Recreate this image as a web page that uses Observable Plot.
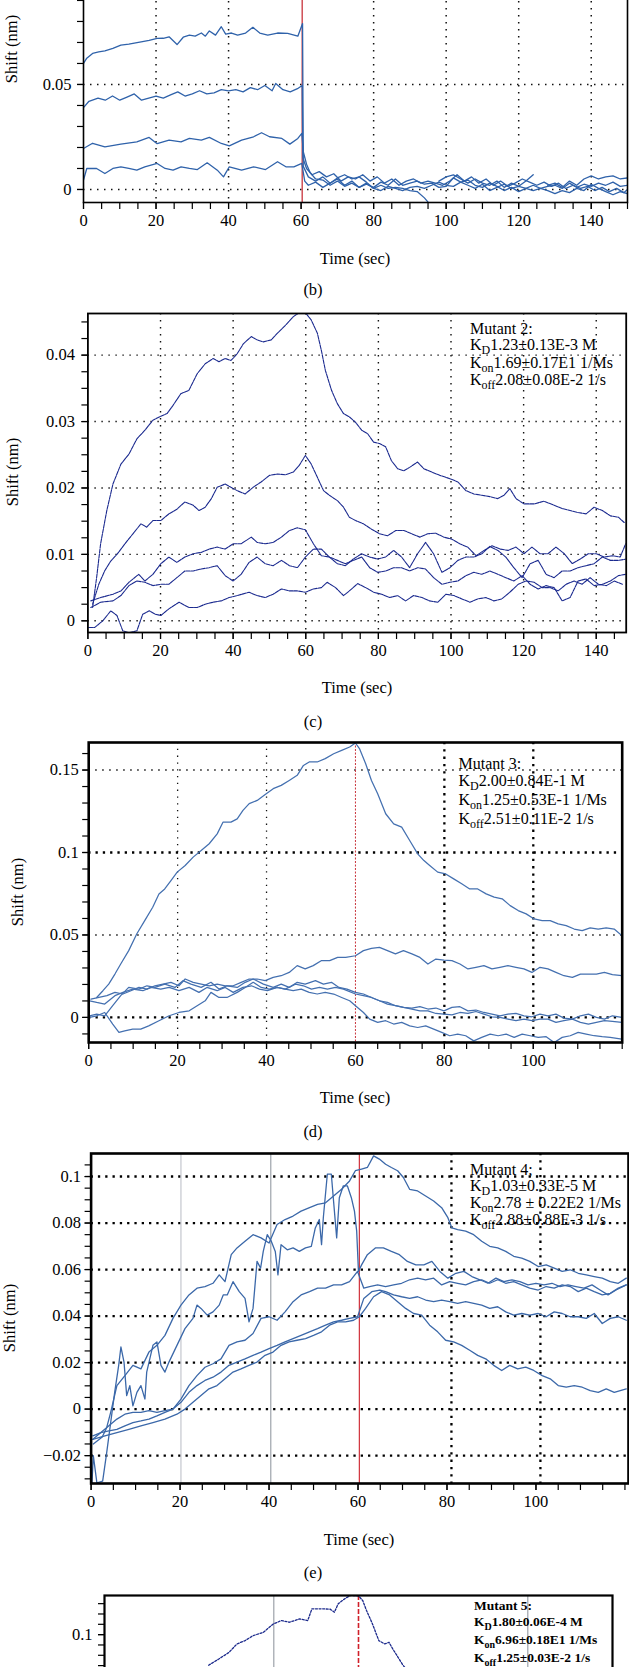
<!DOCTYPE html>
<html><head><meta charset="utf-8">
<script src="https://cdn.jsdelivr.net/npm/d3@7"></script>
<script src="https://cdn.jsdelivr.net/npm/@observablehq/plot@0.6"></script>
<style>
body{margin:0;background:#fff;}
#page{position:relative;width:629px;height:1667px;overflow:hidden;background:#fff;font-family:"Liberation Serif","Times New Roman",serif;color:#000;}
.pn{position:absolute;left:0;}
.pn svg{display:block;}
.lbl{position:absolute;width:240px;text-align:center;font-size:16.5px;line-height:20px;white-space:nowrap;}
.ylbl{position:absolute;width:110px;height:20px;text-align:center;font-size:16.5px;line-height:20px;white-space:nowrap;transform:rotate(-90deg);transform-origin:50% 50%;}
.ann{position:absolute;font-size:16px;white-space:nowrap;}
.ann .s{position:relative;top:4px;}
</style></head><body><div id="page"></div>
<script>
// ---------------- Panel (b) ----------------
const bCurve1 = [[0,0.060],[0.9,0.0625],[2.5,0.0648],[4.2,0.0655],[5.9,0.066],[8.1,0.0672],[10.3,0.0687],[12.5,0.0692],[15.9,0.0703],[18.1,0.071],[20.3,0.0719],[22,0.072],[23.6,0.0727],[25.8,0.069],[27.5,0.0725],[29.2,0.0735],[30.8,0.073],[32.5,0.0745],[33.6,0.073],[34.7,0.0755],[36.4,0.0735],[38,0.0775],[39.2,0.074],[40.8,0.0745],[42.5,0.0735],[44.7,0.0745],[46.7,0.0772],[48.6,0.0745],[50.8,0.0735],[53.5,0.0745],[56.3,0.0743],[59.1,0.073],[60.4,0.079],
 [60.6,0.011],[62,0.006],[64,0.004],[66,0.006],[68,0.003],[70,0.005],[72,0.002],[74,0.004],[76,0.001],[78,0.003],[80,0.0005],[82,0.002],[84,0.0005],[86,0.001],[88,0.0005],[90,-0.0005],[92,-0.001],[94,-0.004],[95,-0.006],[96,null],
 [98,0.004],[100,0.006],[102,0.007],[104,0.005],[106,0.003],[108,0.005],[110,0.003],[112,0.002],[114,0.004],[116,0.001],[118,0.003],[120,0.0015],[122,0.004],[124,0.007],[126,null],[128,0.002],[130,0.003],[132,0.001],[134,0.004],[136,0.002],[138,0.005],[140,0.0065],[142,0.005],[144,0.006],[146,0.0065],[148,0.005],[150,0.0055]];
const bCurve2 = [[0,0.039],[1.5,0.042],[4,0.0435],[6,0.0425],[8,0.0445],[10,0.0425],[12,0.044],[14,0.0455],[16,0.0425],[18,0.0435],[20,0.0445],[22,0.0435],[24,0.045],[26,0.0465],[28,0.0445],[30,0.0455],[32,0.047],[34,0.0455],[36,0.046],[38,0.0475],[40,0.047],[42,0.0475],[44,0.0465],[46,0.0485],[48,0.0475],[50,0.0495],[52,0.047],[53,0.0505],[55,0.0475],[57,0.0465],[59,0.048],[60.3,0.0495],
 [60.5,0.015],[61.5,0.01],[63,0.007],[65,0.0085],[67,0.006],[69,0.0075],[71,0.004],[73,0.006],[75,0.005],[77,0.007],[79,0.004],[81,0.006],[83,0.003],[85,0.005],[87,0.002],[89,0.004],[91,0.005],[93,0.003],[95,0.004],[97,0.003],[99,0.002],[101,0.004],[103,0.007],[105,0.004],[107,0.006],[109,0.003],[111,0.005],[113,0.002],[115,0.004],[117,0.0015],[119,0.003],[121,0.005],[123,0.0035],[125,0.002],[127,0.0035],[129,0.0015],[131,0.003],[133,0.0005],[135,0.002],[137,0.0005],[139,0.0015],[141,-0.0005],[143,0.001],[145,-0.001],[147,0.0005],[149,-0.0015],[150,0]];
const bCurve3 = [[0,0.0195],[2.5,0.022],[5.9,0.0203],[10.3,0.0216],[14.7,0.0227],[18.1,0.0248],[20.3,0.0218],[23.6,0.0235],[26.9,0.0227],[29.2,0.0243],[32.5,0.0235],[34.7,0.0248],[38,0.0219],[40.2,0.0208],[43.6,0.0235],[46.9,0.0251],[49.1,0.027],[51.3,0.0251],[54.7,0.0243],[56.9,0.0216],[59.1,0.0243],[60.2,0.0267],
 [60.6,0.018],[61.5,0.012],[62.5,0.008],[64,0.005],[66,0.0045],[68,0.002],[70,0.004],[72,0.0015],[74,0.003],[76,0.001],[78,0.0025],[80,0.001],[82,0.0035],[84,0.002],[86,0.005],[88,0.002],[90,0.003],[92,0.004],[94,0.0025],[96,0.003],[98,0.001],[100,0.0015],[102,0.0055],[104,0.0035],[106,0.002],[108,0.0005],[110,0.0025],[112,-0.0005],[114,0.001],[116,0.0025],[118,0.0005],[120,0.0015],[122,0.0005],[124,0.002],[126,0.0005],[128,0.0015],[130,0.002],[132,0.0005],[134,0.003],[136,0.001],[138,0.0025],[140,0.0015],[142,0.003],[144,0.002],[146,0.0035],[148,0.0015],[150,0.002]];
const bCurve4 = [[0,0.0045],[0.9,0.010],[3.6,0.010],[5.9,0.0076],[8.1,0.010],[10.3,0.0108],[12.5,0.010],[14.7,0.0092],[16.9,0.0108],[20.3,0.0124],[22.5,0.010],[24.7,0.0092],[26.9,0.0108],[29.2,0.010],[31.4,0.0095],[34.1,0.0127],[36.9,0.0092],[38.6,0.006],[40.2,0.0108],[43.6,0.0092],[46.9,0.0108],[50.2,0.0095],[53.5,0.0132],[55.8,0.0108],[58,0.0108],[60.2,0.0124],
 [61,0.004],[62,0.002],[64,0.0035],[66,0.001],[68,0.003],[70,0.0055],[72,0.007],[74,0.005],[76,0.006],[78,0.0035],[80,0.0005],[82,-0.0005],[84,0.0015],[86,0.0005],[88,-0.0005],[90,0.001],[92,0.0015],[94,0.0005],[96,0.002],[98,0.0035],[100,0.002],[102,0.0015],[104,0.0035],[106,0.0045],[108,0.002],[110,0.001],[112,0.003],[114,0.0015],[116,-0.0005],[118,0.001],[120,-0.001],[122,0.0005],[124,-0.0005],[126,0.0005],[128,-0.0005],[130,-0.002],[132,-0.0005],[134,-0.0015],[136,0.0005],[138,-0.0005],[140,0.0025],[142,0.0005],[144,-0.001],[146,-0.0025],[148,-0.001],[150,-0.002]];
const bXLabels = [0,20,40,60,80,100,120,140];
const bYLabels = [0,0.05];
const bGridX = [20,40,80,100,120,140];
const bGridY = [0,0.05,0.1];
const bRed = [60.3];

// ---------------- Panel (c) Mutant 2 ----------------
const cCurve1 = [[1.3,0.002],[2.4,0.0065],[3.5,0.0116],[5.2,0.0166],[6.9,0.0206],[9.1,0.0236],[11.3,0.0251],[13.5,0.0274],[15.7,0.0287],[17.9,0.0302],[20.1,0.0308],[21.8,0.0312],[23.4,0.0324],[25.6,0.0342],[27.8,0.0347],[30.1,0.0372],[32.3,0.0387],[34.5,0.0395],[36.1,0.039],[37.8,0.0395],[39.4,0.0392],[41.1,0.0402],[42.8,0.0417],[45,0.0428],[46.6,0.0423],[48.3,0.042],[50.5,0.0423],[52.2,0.0433],[54.4,0.0445],[56.6,0.0458],[58.2,0.0464],[59.9,0.0464],[61.5,0.0453],[63.2,0.0433],[64.3,0.0407],[65.4,0.0377],[67.1,0.0347],[68.7,0.0327],[70.4,0.0312],[72,0.0307],[73.7,0.0299],[75.4,0.0287],[77,0.0282],[78.7,0.0269],[80.3,0.0267],[82,0.0262],[83.6,0.0241],[85.3,0.0229],[87,0.0226],[88.6,0.0231],[90.8,0.0239],[92.5,0.0229],[94.7,0.0224],[96.9,0.0219],[99.7,0.0214],[101.9,0.0209],[104.1,0.0196],[106.3,0.0191],[108.5,0.0189],[110.7,0.0187],[112.9,0.0184],[114.6,0.0189],[116.2,0.0199],[117.9,0.0184],[120.1,0.0176],[122.9,0.0176],[125.6,0.018],[128.4,0.0174],[130.6,0.0169],[132.8,0.0166],[135,0.0163],[137.2,0.0161],[139.4,0.0171],[141.7,0.0166],[143.9,0.0158],[146.1,0.0156],[147.7,0.0148]];
const cCurve2 = [[1.3,0.0025],[3,0.0055],[4.6,0.0075],[6.3,0.009],[8,0.01],[10.2,0.0116],[12.4,0.0131],[14.6,0.0146],[16.2,0.0141],[17.9,0.0151],[20.1,0.0151],[22.3,0.0161],[24.5,0.0168],[26.7,0.0179],[29,0.0174],[30.6,0.0166],[32.3,0.0171],[34,0.0184],[35.6,0.0201],[37.8,0.0206],[39.4,0.0201],[41.1,0.0196],[43.3,0.0191],[45.5,0.0201],[47.7,0.0209],[50,0.0219],[52.2,0.0221],[54.4,0.022],[56.6,0.0224],[58.2,0.0234],[59.9,0.0249],[61.5,0.0236],[63.2,0.0216],[64.9,0.0196],[66.5,0.0189],[68.7,0.0181],[70.4,0.0171],[72,0.0156],[73.7,0.0151],[75.9,0.0146],[78.1,0.0138],[80.3,0.0131],[82.5,0.0128],[84.8,0.0136],[87,0.0136],[89.2,0.0131],[91.4,0.0126],[93.6,0.0131],[95.8,0.0132],[98,0.0126],[100.2,0.0123],[102.4,0.0116],[104.6,0.0111],[106.9,0.0098],[109.1,0.0106],[111.3,0.0113],[113.5,0.0108],[115.7,0.0106],[117.9,0.0111],[120.1,0.0101],[122.3,0.0111],[124.5,0.0101],[126.7,0.0101],[128.9,0.0111],[131.2,0.0101],[133.4,0.0086],[135.6,0.0093],[137.8,0.0101],[140,0.0101],[142.2,0.0096],[144.4,0.0098],[146.6,0.0096],[148.1,0.0116]];
const cCurve3 = [[0.8,0.003],[3.5,0.0035],[6.9,0.004],[9.1,0.0045],[11.3,0.0058],[14,0.007],[15.7,0.006],[17.9,0.007],[20.1,0.0086],[22.3,0.0096],[24.5,0.0088],[26.7,0.0096],[29,0.0101],[31.2,0.0103],[33.4,0.0108],[35.6,0.0111],[37.8,0.0108],[40,0.0116],[42.2,0.0116],[45,0.0126],[46.6,0.0118],[48.8,0.0116],[51,0.0118],[53.3,0.0126],[55.5,0.0136],[57.7,0.014],[59.9,0.0137],[62.1,0.0116],[64.3,0.0098],[66.5,0.0096],[68.7,0.0086],[70.9,0.0083],[73.1,0.0093],[75.4,0.0101],[77.6,0.0096],[79.8,0.0093],[82,0.0096],[84.2,0.0106],[86.4,0.0096],[88.6,0.008],[90.8,0.0101],[93,0.0118],[95.2,0.0101],[97.5,0.0073],[99.7,0.008],[101.9,0.0091],[104.1,0.0096],[106.3,0.0096],[108.5,0.0101],[110.7,0.0112],[112.9,0.0106],[115.1,0.0096],[117.3,0.008],[119.6,0.0065],[121.8,0.0086],[124,0.0091],[126.2,0.007],[128.4,0.0065],[130.6,0.0075],[132.8,0.0075],[135,0.008],[137.2,0.0083],[139.4,0.0086],[141.7,0.0096],[143.9,0.0091],[146.1,0.0091],[148.3,0.0093]];
const cCurve4 = [[0.8,0.002],[3.5,0.0028],[6.9,0.003],[9.1,0.0038],[11.3,0.0053],[13.5,0.006],[15.7,0.0058],[17.9,0.0053],[20.1,0.0055],[22.3,0.0055],[24.5,0.0065],[26.7,0.0075],[29,0.0075],[31.2,0.0078],[33.4,0.008],[35.6,0.0083],[37.8,0.0068],[40,0.006],[42.2,0.007],[44.4,0.0088],[46.6,0.0096],[48.8,0.0086],[51,0.0083],[53.3,0.0091],[55.5,0.0083],[57.7,0.008],[59.9,0.0096],[62.1,0.0108],[64.3,0.0108],[66.5,0.0096],[68.7,0.0091],[70.9,0.0086],[73.1,0.0091],[75.4,0.0096],[77.6,0.008],[79.8,0.0073],[82,0.0075],[84.2,0.008],[86.4,0.008],[88.6,0.0075],[90.8,0.008],[93,0.0078],[95.2,0.0065],[97.5,0.0055],[99.7,0.0058],[101.9,0.006],[104.1,0.0068],[106.3,0.0073],[108.5,0.007],[110.7,0.0075],[112.9,0.007],[115.1,0.0065],[117.3,0.006],[119.6,0.0068],[121.8,0.0055],[124,0.0048],[126.2,0.0053],[128.4,0.005],[130.6,0.003],[132.8,0.0035],[135,0.006],[137.2,0.0063],[139.4,0.0053],[141.7,0.0055],[143.9,0.006],[146.1,0.0068],[148.1,0.007]];
const cCurve5 = [[0.2,-0.001],[1.9,-0.001],[4.1,0],[6.3,0.0015],[8,0.0008],[9.6,-0.0015],[11.3,-0.0018],[13.5,-0.0015],[15.1,0.001],[16.9,0.0015],[18.5,0.001],[20.1,0.0008],[22.3,0.0018],[25.1,0.0028],[27.8,0.002],[30.1,0.002],[32.3,0.0025],[34.5,0.0028],[36.7,0.003],[38.9,0.0035],[41.1,0.0038],[44.4,0.0043],[46.6,0.0038],[48.8,0.0035],[51,0.004],[53.3,0.0048],[55.5,0.0045],[57.7,0.0045],[59.9,0.0043],[62.1,0.0048],[64.3,0.005],[65.9,0.0058],[68.2,0.005],[70.4,0.0038],[72,0.0045],[74.3,0.0056],[76.5,0.005],[78.7,0.0043],[80.9,0.004],[83.1,0.0035],[85.3,0.0038],[87.5,0.003],[89.7,0.0038],[92,0.0035],[94.1,0.003],[96.4,0.0028],[98.6,0.004],[100.8,0.0038],[103,0.0033],[105.2,0.0028],[107.4,0.0033],[109.6,0.0035],[111.8,0.003],[114,0.0033],[116.2,0.0043],[118.5,0.0055],[120.7,0.006],[122.9,0.0058],[125.1,0.005],[127.3,0.005],[129.5,0.0045],[131.7,0.0055],[133.9,0.006],[136.1,0.0055],[138.3,0.0065],[140.6,0.0055],[142.8,0.0053],[145,0.006],[147.2,0.0055]];
const cXLabels = [0,20,40,60,80,100,120,140];
const cYLabels = [0,0.01,0.02,0.03,0.04];
const cGridX = [20,40,60,80,100,120,140];
const cGridY = [0,0.01,0.02,0.03,0.04];

// ---------------- Panel (d) Mutant 3 ----------------
const dCurve1 = [[1.8,0.0121],[3.2,0.0162],[4.5,0.0202],[5.9,0.0263],[7.2,0.0324],[9,0.0405],[10.8,0.0506],[12.6,0.0587],[14.4,0.0668],[15.8,0.0749],[17.1,0.0779],[18.5,0.083],[19.9,0.0881],[21.7,0.0921],[23.5,0.0972],[25.3,0.1012],[27.1,0.1053],[28.9,0.1113],[30.2,0.1184],[32,0.1184],[33.4,0.1204],[34.7,0.1255],[36.1,0.1296],[37.9,0.1316],[39.7,0.1352],[41.5,0.1387],[43.3,0.1407],[45.1,0.1437],[46.9,0.1468],[48.3,0.1528],[49.6,0.1549],[51.4,0.1549],[53.2,0.1569],[55.1,0.1599],[56.9,0.1619],[58.7,0.164],[60,0.1664],[60.9,0.163],[62.3,0.1538],[63.6,0.1437],[65,0.1356],[66.8,0.1235],[68.6,0.1174],[70.4,0.1154],[72.2,0.1073],[74,0.0992],[75.4,0.0951],[76.7,0.0921],[78.5,0.0881],[80.3,0.087],[82.1,0.084],[83.9,0.081],[85.7,0.0779],[87.5,0.0779],[89.4,0.0749],[91.2,0.0729],[93,0.0719],[94.8,0.0678],[96.6,0.0648],[98.4,0.0628],[100.2,0.0597],[102,0.0587],[103.8,0.0587],[105.6,0.0567],[107.4,0.0557],[109.2,0.0536],[111,0.0526],[112.8,0.0543],[114.6,0.0536],[116.4,0.0543],[118.2,0.0536],[119.9,0.0496]];
const dCurve2 = [[0.5,0.0111],[2.3,0.0121],[4.1,0.0132],[5.9,0.0152],[7.7,0.0142],[9.5,0.0162],[11.3,0.0182],[13.1,0.0172],[14.9,0.0192],[16.7,0.0202],[18.5,0.0213],[20.3,0.0192],[21.7,0.0233],[23.5,0.0213],[25.3,0.0202],[27.1,0.0192],[28.9,0.0202],[30.7,0.0192],[32.5,0.0192],[34.3,0.0213],[36.1,0.0233],[37.9,0.0233],[39.7,0.0223],[41.5,0.0243],[43.3,0.0253],[45.1,0.0273],[46.9,0.0314],[48.7,0.0294],[50.5,0.0314],[52.3,0.0344],[54.2,0.0344],[56,0.0364],[57.8,0.0364],[60,0.0374],[61.8,0.0405],[63.6,0.0419],[65.4,0.0425],[67.2,0.0405],[69,0.0385],[70.8,0.0405],[72.7,0.0385],[74.5,0.0364],[76.3,0.0324],[78.1,0.0354],[79.9,0.0348],[81.7,0.0344],[83.5,0.0324],[85.3,0.0294],[87.1,0.0304],[88.9,0.0314],[90.7,0.0294],[92.5,0.0304],[94.3,0.0314],[96.1,0.0304],[97.9,0.0294],[99.7,0.0273],[101.5,0.0304],[103.3,0.0294],[105.1,0.0273],[106.9,0.0253],[108.8,0.0243],[110.6,0.0263],[112.4,0.0263],[114.2,0.0263],[116,0.0273],[117.8,0.0259],[119.9,0.0253]];
const dCurve3 = [[0.2,0.001],[1.8,0.002],[3.6,0.001],[5.4,0.0071],[7.2,0.0132],[9,0.0182],[11.3,0.0172],[13.1,0.0192],[14.9,0.0182],[17.1,0.0202],[19.4,0.0182],[21.2,0.0223],[23,0.0202],[25.3,0.0182],[27.5,0.0213],[29.3,0.0172],[31.1,0.0192],[33.4,0.0182],[35.2,0.0213],[37,0.0233],[39.3,0.0202],[41.5,0.0182],[43.3,0.0202],[45.1,0.0182],[46.9,0.0213],[48.7,0.0202],[51,0.0223],[52.8,0.0202],[54.6,0.0213],[56.3,0.0182],[58.1,0.0172],[60,0.0152],[61.8,0.0142],[63.6,0.0121],[65.4,0.0101],[67.2,0.0081],[69,0.0071],[70.8,0.0061],[72.7,0.0057],[74.5,0.0065],[76.3,0.0051],[78.1,0.0057],[79.9,0.004],[81.7,0.0061],[83.5,0.0065],[85.3,0.004],[87.1,0.0045],[88.9,0.003],[90.7,0.002],[92.5,0.001],[94.3,0.002],[96.1,0.0024],[97.9,0.001],[99.7,0.0004],[101.5,0.002],[103.3,0.001],[105.1,0.002],[106.9,-0.0004],[108.8,-0.001],[110.6,0.001],[112.4,0.002],[114.2,0],[116,-0.001],[117.8,0.001],[119.9,0]];
const dCurve4 = [[0.2,0.0101],[1.8,0.0091],[3.6,0.0081],[5.9,0.0132],[7.7,0.0152],[9.9,0.0172],[12.2,0.0162],[14,0.0182],[16.2,0.0172],[18.1,0.0182],[20.3,0.0162],[22.6,0.0182],[24.8,0.0152],[26.6,0.0182],[28.9,0.0162],[30.7,0.0182],[32.5,0.0152],[34.7,0.0182],[36.6,0.0192],[38.4,0.0172],[40.2,0.0162],[42.4,0.0182],[44.2,0.0172],[46.5,0.0202],[48.3,0.0192],[50.1,0.0172],[51.9,0.0182],[53.7,0.0172],[55.5,0.0182],[57.3,0.0172],[60,0.0142],[61.8,0.0132],[63.6,0.0121],[65.4,0.0101],[67.2,0.0091],[69,0.0071],[70.8,0.0061],[72.7,0.0051],[74.5,0.004],[76.3,0.004],[78.1,0.0024],[79.9,0.002],[81.7,0.0016],[83.5,0.003],[85.3,0.0024],[87.1,0.0036],[88.9,0.002],[90.7,0.0004],[92.5,0],[94.3,-0.001],[96.1,-0.002],[97.9,-0.001],[99.7,-0.002],[101.5,-0.001],[103.3,-0.001],[105.1,-0.003],[106.9,-0.002],[108.8,-0.001],[110.6,-0.003],[112.4,-0.004],[114.2,-0.003],[116,-0.002],[117.8,-0.0024],[119.9,-0.003]];
const dCurve5 = [[0.2,0],[1.8,0.001],[3.6,0.003],[5.4,-0.004],[6.8,-0.0091],[8.1,-0.0081],[9.9,-0.0071],[11.7,-0.0071],[13.5,-0.0051],[15.8,-0.002],[18.1,0.001],[20.3,0.003],[22.6,0.004],[24.4,0.0071],[26.2,0.0101],[27.5,0.0152],[29.3,0.0121],[31.1,0.0121],[33.4,0.0152],[35.2,0.0182],[37,0.0213],[38.8,0.0182],[40.6,0.0172],[42.4,0.0182],[44.2,0.0172],[46,0.0162],[47.8,0.0172],[49.6,0.0152],[51.4,0.0142],[53.2,0.0152],[55.1,0.0142],[56.9,0.0121],[58.7,0.0101],[60,0.0071],[61.8,0.003],[63.2,-0.001],[65,-0.003],[66.8,-0.002],[68.6,-0.004],[70.4,-0.003],[72.2,-0.0051],[74,-0.0061],[75.8,-0.0051],[77.6,-0.0071],[79.4,-0.0091],[81.2,-0.0111],[83,-0.0101],[84.8,-0.0111],[86.6,-0.0142],[88.4,-0.0121],[90.3,-0.0101],[92.1,-0.0111],[93.9,-0.0101],[95.7,-0.0121],[97.5,-0.0101],[99.3,-0.0111],[101.1,-0.0121],[102.9,-0.0117],[104.7,-0.0152],[106.5,-0.0121],[108.3,-0.0111],[110.1,-0.0091],[111.9,-0.0101],[113.7,-0.0111],[115.5,-0.0117],[117.3,-0.0121],[119.9,-0.0132]];
const dXLabels = [0,20,40,60,80,100];
const dYLabels = [0,0.05,0.1,0.15];
const dGridXThin = [20,40];
const dGridXBold = [80,100];
const dGridYThin = [0.05,0.15];
const dGridYBold = [0,0.1];
const dRed = [60];

// ---------------- Panel (e) Mutant 4 ----------------
const eCurve1 = [[0.5,-0.015],[2.5,-0.012],[3.5,-0.008],[4.4,-0.0014],[5.8,0.0101],[7.6,0.0144],[9.4,0.0188],[11.2,0.0173],[13,0.0245],[14.8,0.0274],[16.6,0.0317],[18.4,0.039],[20.2,0.0447],[22,0.0491],[23.8,0.052],[25.6,0.0527],[27.4,0.0541],[28.8,0.0577],[30.1,0.0548],[31.5,0.0664],[32.8,0.0693],[34.6,0.0722],[36.4,0.075],[38.2,0.0736],[40,0.0714],[41.8,0.0794],[43.6,0.0815],[45.4,0.083],[47.2,0.0851],[49.1,0.0866],[50.9,0.088],[52.7,0.0887],[54.5,0.0916],[56.3,0.0945],[58.1,0.0981],[59.4,0.1025],[60.8,0.1032],[62.1,0.1039],[63.5,0.1089],[64.8,0.1075],[66.2,0.1053],[67.5,0.1039],[68.9,0.1025],[70.2,0.0996],[71.6,0.0945],[73.4,0.0938],[75.2,0.0916],[77,0.0895],[78.8,0.0866],[80.2,0.0823],[81.1,0.0779],[82.4,0.0772],[84.2,0.0765],[86,0.075],[87.8,0.0722],[89.6,0.07],[91.4,0.0693],[93.2,0.0678],[95,0.0657],[96.8,0.0649],[98.6,0.0635],[100.5,0.0613],[102.3,0.062],[104.1,0.0606],[105.9,0.0592],[107.7,0.0599],[109.5,0.0584],[111.3,0.0577],[113.1,0.057],[114.9,0.0563],[116.7,0.0548],[118.5,0.0541],[120.3,0.0563]];
const eCurve2 = [[0.2,-0.0317],[0.5,-0.02],[1.3,-0.0317],[2.6,-0.031],[3.5,-0.0188],[4.4,-0.0058],[5.3,0.0072],[6.2,0.0188],[6.7,0.0267],[7.4,0.0202],[8,0.0058],[8.7,0.0101],[9.4,0.0014],[10.3,0.0072],[11.2,0.0101],[12.1,0.0043],[12.5,0.0159],[13.9,0.0274],[14.8,0.0289],[15.7,0.0188],[16.6,0.0159],[17.5,0.0202],[19.3,0.0274],[21.1,0.0346],[22.9,0.039],[23.8,0.0447],[24.7,0.0433],[26.1,0.0404],[27.4,0.0418],[28.8,0.0447],[29.7,0.0491],[30.6,0.0491],[31.9,0.0548],[33.3,0.0505],[34.6,0.0476],[35.5,0.0375],[36.4,0.0433],[37.3,0.0635],[38.1,0.0606],[38.7,0.0678],[39.6,0.075],[40.5,0.0722],[41.4,0.0678],[42,0.0577],[42.7,0.0707],[44.1,0.0685],[45.4,0.0693],[46.8,0.0678],[48.2,0.0693],[49.5,0.07],[50.4,0.0779],[51.3,0.0815],[51.8,0.0707],[52.2,0.0823],[53.1,0.101],[54,0.101],[54.5,0.0895],[55.2,0.0736],[55.8,0.0909],[56.7,0.096],[57.6,0.096],[58.5,0.0909],[59.2,0.0851],[59.7,0.0765],[60.1,0.0592],[60.8,0.062],[62.1,0.0664],[63.9,0.0693],[65.7,0.0693],[67.5,0.0678],[69.3,0.0664],[71.1,0.0635],[73,0.062],[74.8,0.062],[76.6,0.0635],[78.4,0.0592],[80.2,0.0563],[82,0.0584],[83.8,0.0592],[85.6,0.057],[87.4,0.0556],[89.2,0.0541],[91,0.0563],[92.8,0.0548],[94.6,0.0556],[96.4,0.0548],[98.2,0.0534],[100,0.0541],[101.8,0.0534],[103.6,0.0541],[105.4,0.0527],[107.2,0.0534],[109,0.0527],[110.8,0.052],[112.6,0.0534],[114.4,0.0512],[116.2,0.0491],[118,0.0512],[120.3,0.0534]];
const eCurve3 = [[0.4,-0.013],[2.2,-0.0101],[4,-0.0072],[5.8,-0.0043],[7.6,-0.0022],[9.4,-0.0014],[11.2,-0.0014],[13,-0.0007],[14.8,-0.0014],[16.6,-0.0007],[18.4,0],[20.2,0.0043],[22,0.0101],[23.8,0.0144],[25.6,0.018],[27.4,0.0195],[29.2,0.0216],[31,0.0274],[32.8,0.0289],[34.6,0.0296],[36.4,0.0325],[38.2,0.039],[40,0.0397],[41.8,0.0382],[43.6,0.0418],[45.4,0.0462],[47.2,0.0491],[49.1,0.0505],[50.9,0.052],[52.7,0.052],[54.5,0.0534],[56.3,0.0534],[58.1,0.0548],[59.9,0.0592],[61.3,0.052],[62.6,0.0527],[64.4,0.0534],[66.2,0.0527],[68,0.0534],[69.8,0.0541],[71.6,0.0556],[73.4,0.0563],[75.2,0.0556],[77,0.0563],[78.8,0.0534],[80.6,0.0548],[82.4,0.0541],[84.2,0.0534],[86,0.0548],[87.8,0.0556],[89.6,0.0541],[91.4,0.0556],[93.2,0.0541],[95,0.0548],[96.8,0.0534],[98.6,0.052],[100.5,0.0512],[102.3,0.0527],[104.1,0.052],[105.9,0.0534],[107.7,0.0527],[109.5,0.0505],[111.3,0.052],[113.1,0.0505],[114.9,0.0491],[116.7,0.0498],[118.5,0.052],[120.3,0.0534]];
const eCurve4 = [[0.4,-0.0115],[2.2,-0.0101],[4,-0.0094],[5.8,-0.0087],[7.6,-0.0072],[9.4,-0.0058],[11.2,-0.0051],[13,-0.0043],[14.8,-0.0029],[16.6,-0.0014],[18.4,0],[20.2,0.0029],[22,0.0072],[23.8,0.0101],[25.6,0.0123],[27.4,0.0137],[29.2,0.0159],[31,0.0188],[32.8,0.0202],[34.6,0.0216],[36.4,0.0231],[38.2,0.0245],[40,0.026],[41.8,0.0274],[43.6,0.0289],[45.4,0.0303],[47.2,0.0317],[49.1,0.0332],[50.9,0.0346],[52.7,0.0361],[54.5,0.0375],[56.3,0.0382],[58.1,0.039],[59.9,0.0397],[61.3,0.0476],[63.1,0.0505],[64.9,0.0512],[66.2,0.0505],[68,0.0491],[69.8,0.0483],[71.6,0.0476],[73.4,0.0483],[75.2,0.0469],[77,0.0462],[78.8,0.0469],[80.6,0.0462],[82.4,0.0455],[84.2,0.0462],[86,0.0455],[87.8,0.0447],[89.6,0.0433],[91.4,0.044],[93.2,0.0418],[95,0.0404],[96.8,0.0411],[98.6,0.0404],[100.5,0.0411],[102.3,0.0397],[104.1,0.0418],[105.9,0.0411],[107.7,0.0397],[109.5,0.0397],[111.3,0.039],[113.1,0.0411],[114.9,0.0368],[116.7,0.039],[118.5,0.0397],[120.3,0.0382]];
const eCurve5 = [[0.4,-0.013],[3.1,-0.0115],[5.8,-0.0101],[8.5,-0.0087],[11.2,-0.0072],[13.9,-0.0058],[16.6,-0.0043],[19.3,-0.0022],[21.1,0],[22.9,0.0029],[24.7,0.0058],[26.5,0.0087],[28.3,0.0101],[30.1,0.013],[31.9,0.0159],[33.7,0.0173],[35.5,0.0188],[37.3,0.0202],[39.1,0.0231],[40.9,0.0245],[42.7,0.0274],[44.5,0.0289],[46.3,0.0296],[48.2,0.0303],[50,0.0317],[51.8,0.0332],[53.6,0.0361],[55.4,0.0375],[57.2,0.0375],[59,0.0382],[60.3,0.0397],[61.7,0.0433],[63.5,0.0483],[65.3,0.0505],[67.1,0.0491],[68.9,0.0462],[70.7,0.0433],[72.5,0.0411],[74.3,0.0404],[76.1,0.0361],[77.9,0.0332],[79.7,0.0296],[81.5,0.0289],[83.3,0.0274],[85.1,0.0253],[86.9,0.0231],[88.7,0.0216],[90.5,0.0188],[92.3,0.0166],[94.1,0.0188],[95.9,0.0173],[97.7,0.018],[99.5,0.0166],[101.4,0.0144],[103.2,0.013],[105,0.0101],[106.8,0.0094],[108.6,0.0101],[110.4,0.0094],[112.2,0.0079],[114,0.0072],[115.8,0.0087],[117.6,0.0072],[120.3,0.0087]];
const eXLabels = [0,20,40,60,80,100];
const eYLabels = [-0.02,0,0.02,0.04,0.06,0.08,0.1];
const eGridY = [-0.02,0,0.02,0.04,0.06,0.08,0.1];
const eGridXDotted = [81,101];
const eGridXLight = [20.2];
const eGridXGray = [40.4];
const eRed = [60.3];

// ---------------- Panel (f) Mutant 5 (top only visible) ----------------
const fCurve1 = [[24.6,0.0704],[27,0.0764],[29.4,0.0828],[31.3,0.091],[33.2,0.0942],[35.1,0.099],[37.5,0.1022],[39.9,0.1104],[41.8,0.1136],[43.7,0.112],[46.1,0.1152],[48,0.1136],[49,0.125],[51.4,0.125],[53.3,0.1247],[54.3,0.1217],[55.2,0.1298],[56.7,0.1346],[58.1,0.138],[60,0.1375],[61,0.133],[61.9,0.1233],[63.3,0.1104],[64.8,0.0942],[66.2,0.091],[67.2,0.0926],[68.1,0.0861],[69.6,0.0764],[70.5,0.0704],[71.5,0.0655]];
const fXLabels = [0,20,40,60,80,100];
const fYLabels = [0.1];
const fGridXGray = [40,100];
const fRed = [60];

// ---------------- Texts ----------------
const annC = ["Mutant 2:", ["D","1.23±0.13E-3 M"], ["on","1.69±0.17E1 1/Ms"], ["off","2.08±0.08E-2 1/s"]];
const annD = ["Mutant 3:", ["D","2.00±0.84E-1 M"], ["on","1.25±0.53E-1 1/Ms"], ["off","2.51±0.11E-2 1/s"]];
const annE = ["Mutant 4;", ["D","1.03±0.33E-5 M"], ["on","2.78 ± 0.22E2 1/Ms"], ["off","2.88±0.88E-3 1/s"]];
const annF = ["Mutant 5:", ["D","1.80±0.06E-4 M"], ["on","6.96±0.18E1 1/Ms"], ["off","1.25±0.03E-2 1/s"]];

// ---------------- Rendering ----------------
const page = document.getElementById("page");
const FONT = "'Liberation Serif', 'Times New Roman', serif";
const fmt = d => d < 0 ? "\u2212" + Math.abs(d) : String(d);
const dotThin = {stroke: "#111", strokeWidth: 1.5, strokeDasharray: "1.5 5.5"};
const dotBold = {stroke: "#000", strokeWidth: 2.3, strokeDasharray: "2.3 5"};

function panel(cfg) {
  const mt = 12, mb = 40;
  const plotH = cfg.bottom - cfg.top;
  const [x0, x1] = cfg.xDomain, [y0, y1] = cfg.yDomain;
  const xMinor = d3.range(0, x1 + 0.001, 5);
  const yMinor = d3.range(Math.ceil(y0 / cfg.yStep - 1e-6) * cfg.yStep, y1 + 1e-9, cfg.yStep).map(v => Math.round(v * 1e6) / 1e6).filter(v => v >= y0 && v <= y1);
  const marks = [
    ...cfg.grids,
    ...cfg.curves.map(c => Plot.line(c, {stroke: cfg.color, strokeWidth: cfg.lineWidth, strokeDasharray: cfg.dash, clip: true})),
    Plot.frame({stroke: "#000", strokeWidth: cfg.frameWidth}),
    Plot.axisX(xMinor, {tickSize: 7, tickFormat: () => "", label: null, strokeWidth: 1.2})
  ];
  if (cfg.xLabels) marks.push(Plot.axisX(cfg.xLabels, {tickSize: 7, tickPadding: 5, label: null, tickFormat: fmt, strokeWidth: 1.2, fontSize: 16.5, fontFamily: FONT}));
  marks.push(Plot.axisY(yMinor, {tickSize: 6, tickFormat: () => "", label: null, strokeWidth: 1.2}));
  marks.push(Plot.axisY(cfg.yLabels.filter(v => v >= y0 && v <= y1), {tickSize: 6, tickPadding: cfg.yPad, label: null, tickFormat: fmt, strokeWidth: 1.2, fontSize: 16.5, fontFamily: FONT}));
  const svg = Plot.plot({
    width: 629, height: mt + plotH + mb,
    marginLeft: cfg.left, marginRight: 629 - cfg.right, marginTop: mt, marginBottom: mb,
    x: {domain: cfg.xDomain, label: null},
    y: {domain: cfg.yDomain, label: null},
    style: {fontFamily: FONT, fontSize: "16.5px", background: "transparent", overflow: "visible", color: "#000"},
    marks
  });
  const div = document.createElement("div");
  div.className = "pn";
  div.style.top = (cfg.top - mt) + "px";
  div.appendChild(svg);
  page.appendChild(div);
}

function label(text, cx, cy) {
  const d = document.createElement("div");
  d.className = "lbl";
  d.textContent = text;
  d.style.left = (cx - 120) + "px";
  d.style.top = (cy - 10) + "px";
  page.appendChild(d);
}

function ylabel(text, cx, cy) {
  const d = document.createElement("div");
  d.className = "ylbl";
  d.textContent = text;
  d.style.left = (cx - 55) + "px";
  d.style.top = (cy - 10) + "px";
  page.appendChild(d);
}

function annotation(lines, left, top, lh, fs, weight) {
  const d = document.createElement("div");
  d.className = "ann";
  d.style.left = left + "px";
  d.style.top = top + "px";
  d.style.lineHeight = lh + "px";
  d.style.fontSize = fs + "px";
  if (weight) d.style.fontWeight = weight;
  lines.forEach(ln => {
    const row = document.createElement("div");
    if (typeof ln === "string") row.textContent = ln;
    else {
      row.appendChild(document.createTextNode("K"));
      const s = document.createElement("span");
      s.className = "s"; s.textContent = ln[0];
      s.style.fontSize = Math.round(fs * 0.72) + "px";
      row.appendChild(s);
      row.appendChild(document.createTextNode(ln[1]));
    }
    d.appendChild(row);
  });
  page.appendChild(d);
}

// (b)
panel({left: 83, right: 627, top: -104, bottom: 202, xDomain: [0, 150], yDomain: [-0.0062, 0.1395], yStep: 0.01,
  xLabels: bXLabels, yLabels: bYLabels, yPad: 6, color: "#2f62aa", lineWidth: 1.3, frameWidth: 1.6,
  curves: [bCurve1, bCurve2, bCurve3, bCurve4],
  grids: [Plot.ruleY(bGridY, dotThin), Plot.ruleX(bGridX, dotThin), Plot.ruleX(bRed, {stroke: "#c8343c", strokeWidth: 1.3})]});
ylabel("Shift (nm)", 12, 49);
label("Time (sec)", 355, 259);
label("(b)", 313, 290);

// (c)
panel({left: 87.4, right: 625.7, top: 312.7, bottom: 631.7, xDomain: [0, 148.25], yDomain: [-0.00176, 0.04627], yStep: 0.0025,
  xLabels: cXLabels, yLabels: cYLabels, yPad: 7, color: "#1b2a8f", lineWidth: 1.1, dash: "4 1", frameWidth: 1.8,
  curves: [cCurve1, cCurve2, cCurve3, cCurve4, cCurve5],
  grids: [Plot.ruleY(cGridY, {stroke: "#111", strokeWidth: 1.4, strokeDasharray: "1.4 5.6"}), Plot.ruleX(cGridX, {stroke: "#111", strokeWidth: 1.4, strokeDasharray: "1.4 5.6"})]});
ylabel("Shift (nm)", 12.5, 472);
annotation(annC, 470, 320.5, 16.5, 16);
label("Time (sec)", 357, 688);
label("(c)", 313, 722);

// (d)
panel({left: 88.2, right: 621.7, top: 741.7, bottom: 1041.7, xDomain: [0, 120], yDomain: [-0.0152, 0.1667], yStep: 0.01,
  xLabels: dXLabels, yLabels: dYLabels, yPad: 4, color: "#4470b0", lineWidth: 1.25, frameWidth: 2.6,
  curves: [dCurve1, dCurve2, dCurve3, dCurve4, dCurve5],
  grids: [Plot.ruleY(dGridYThin, dotThin), Plot.ruleY(dGridYBold, dotBold), Plot.ruleX(dGridXThin, {stroke: "#111", strokeWidth: 1.3, strokeDasharray: "1.3 5.5"}), Plot.ruleX(dGridXBold, dotBold), Plot.ruleX(dRed, {stroke: "#c8343c", strokeWidth: 1, strokeDasharray: "2 1.5"})]});
ylabel("Shift (nm)", 17.5, 892);
annotation(annD, 458.5, 754.5, 17, 16);
label("Time (sec)", 355, 1098);
label("(d)", 313, 1132);

// (e)
panel({left: 90.6, right: 628, top: 1153, bottom: 1483, xDomain: [0, 120.8], yDomain: [-0.032, 0.1099], yStep: 0.005,
  xLabels: eXLabels, yLabels: eYLabels, yPad: 4, color: "#3b68a9", lineWidth: 1.3, frameWidth: 2.6,
  curves: [eCurve1, eCurve2, eCurve3, eCurve4, eCurve5],
  grids: [Plot.ruleY(eGridY, dotBold), Plot.ruleX(eGridXLight, {stroke: "#b8bcc4", strokeWidth: 1}), Plot.ruleX(eGridXGray, {stroke: "#8a9099", strokeWidth: 1}), Plot.ruleX(eGridXDotted, dotBold), Plot.ruleX(eRed, {stroke: "#d0303a", strokeWidth: 1.2})]});
ylabel("Shift (nm)", 9.5, 1318);
annotation(annE, 470, 1162, 16, 16);
label("Time (sec)", 359, 1540);
label("(e)", 313, 1573);

// (f)
panel({left: 104, right: 612, top: 1595, bottom: 1915, xDomain: [0, 120], yDomain: [-0.172, 0.1379], yStep: 0.01,
  xLabels: null, yLabels: fYLabels, yPad: 6, color: "#1c2a8c", lineWidth: 1.3, dash: "2 1.6", frameWidth: 2.2,
  curves: [fCurve1],
  grids: [Plot.ruleX(fGridXGray, {stroke: "#8a9099", strokeWidth: 1}), Plot.ruleX(fRed, {stroke: "#d0202a", strokeWidth: 1.6, strokeDasharray: "5 2"})]});
annotation(annF, 474, 1597.5, 16.7, 13.5, 600);
</script></body></html>
